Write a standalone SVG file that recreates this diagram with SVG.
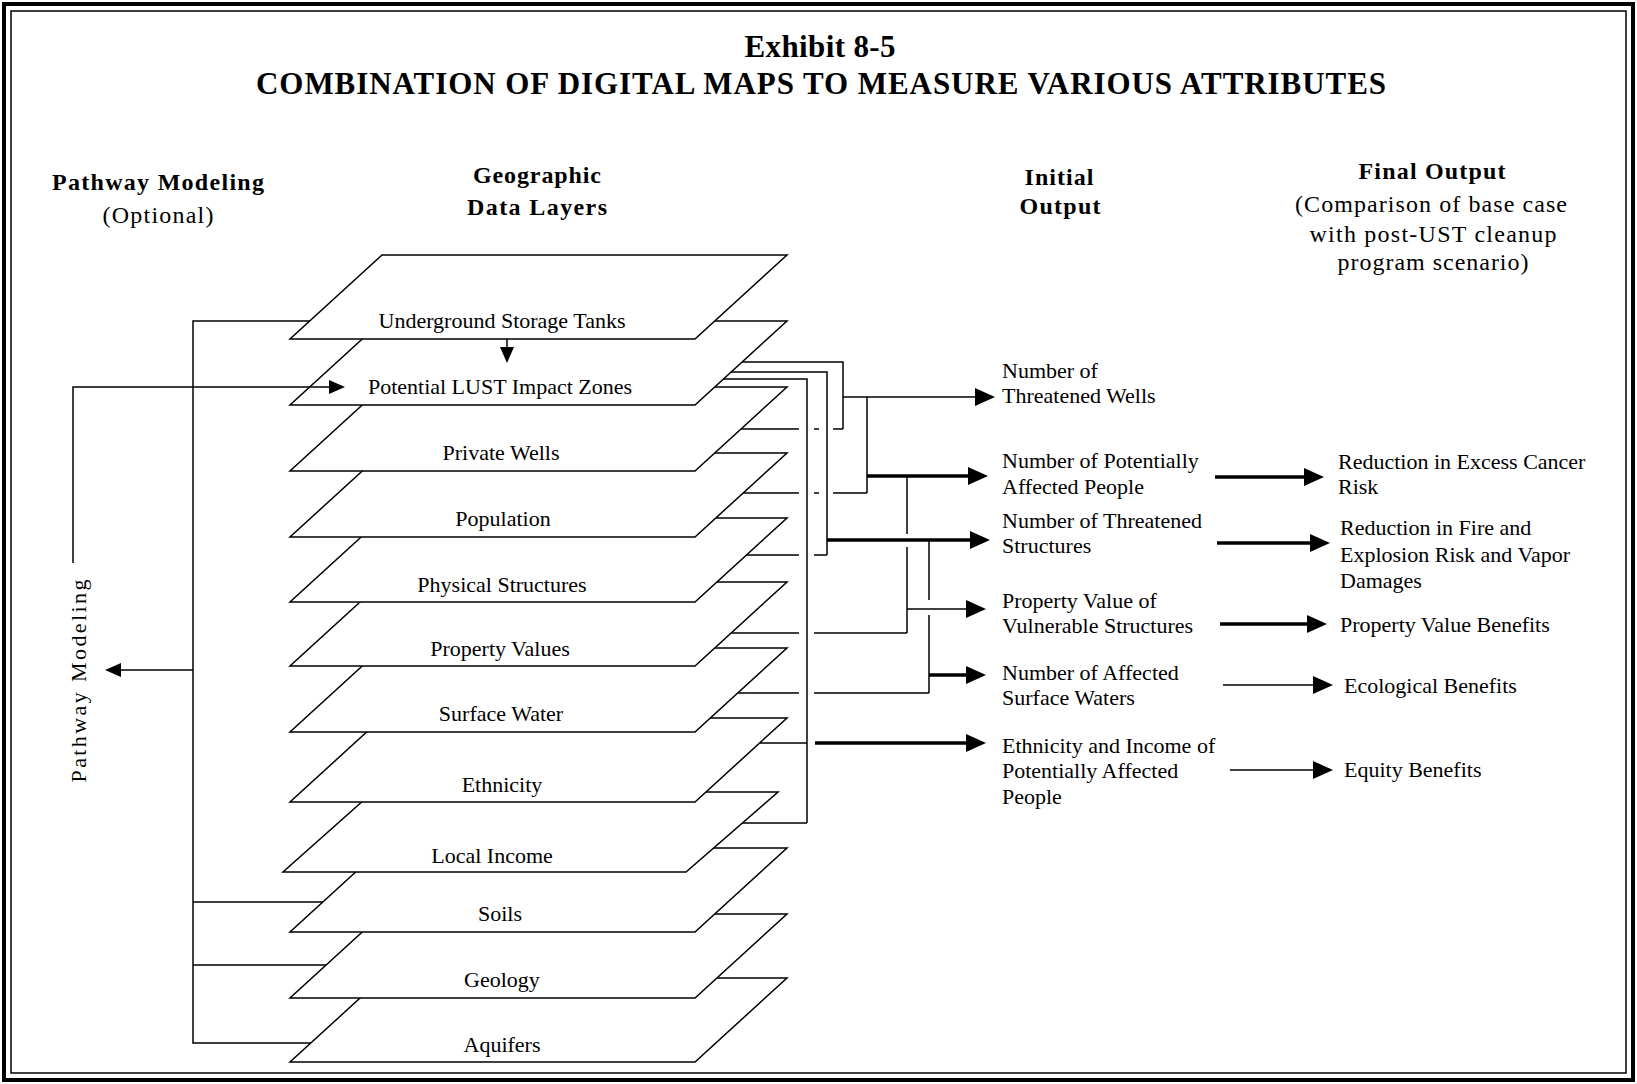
<svg xmlns="http://www.w3.org/2000/svg" width="1637" height="1084" viewBox="0 0 1637 1084">
<style>
.bg{fill:#fff}
.frame{fill:none;stroke:#000}
.layer{fill:#fff;stroke:#000;stroke-width:1.5}
.t{font-family:"Liberation Serif","Times New Roman",serif;font-size:22px;fill:#000}
.c{text-anchor:middle}
.hb{font-family:"Liberation Serif","Times New Roman",serif;font-size:24px;font-weight:bold;text-anchor:middle;fill:#000}
.hr{font-family:"Liberation Serif","Times New Roman",serif;font-size:24px;text-anchor:middle;fill:#000}
.title{font-family:"Liberation Serif","Times New Roman",serif;font-size:31px;font-weight:bold;text-anchor:middle;fill:#000}
.ln{fill:none;stroke:#000;stroke-width:1.5}
.thk{stroke-width:3.5}
</style>
<defs>
<marker id="ah" viewBox="0 0 20 20" refX="0" refY="10" markerWidth="20" markerHeight="20" markerUnits="userSpaceOnUse" orient="auto"><path d="M0,1 L20,10 L0,19 z" fill="#000"/></marker>
<marker id="ahs" viewBox="0 0 16 14" refX="0" refY="7" markerWidth="16" markerHeight="14" markerUnits="userSpaceOnUse" orient="auto"><path d="M0,0 L16,7 L0,14 z" fill="#000"/></marker>
</defs>
<rect class="bg" x="0" y="0" width="1637" height="1084"/>
<g id="frame">
<rect class="frame" x="4" y="4" width="1629" height="1076" stroke-width="4"/>
<rect class="frame" x="11" y="11" width="1615" height="1062" stroke-width="1.5"/>
</g>
<g id="title">
<text class="title" x="820" y="57" textLength="151">Exhibit 8-5</text>
<text class="title" x="821" y="94" textLength="1130">COMBINATION OF DIGITAL MAPS TO MEASURE VARIOUS ATTRIBUTES</text>
</g>
<g id="headers">
<text class="hb" x="158" y="190" textLength="212">Pathway Modeling</text>
<text class="hr" x="158" y="223" textLength="111">(Optional)</text>
<text class="hb" x="537" y="183" textLength="128">Geographic</text>
<text class="hb" x="537" y="215" textLength="140">Data Layers</text>
<text class="hb" x="1059" y="185" textLength="69">Initial</text>
<text class="hb" x="1060" y="214" textLength="81">Output</text>
<text class="hb" x="1432" y="179" textLength="147">Final Output</text>
<text class="hr" x="1431" y="212" textLength="272">(Comparison of base case</text>
<text class="hr" x="1433" y="242" textLength="247">with post-UST cleanup</text>
<text class="hr" x="1433" y="270" textLength="191">program scenario)</text>
</g>
<g id="layers">
<g id="layer-aquifers"><polygon class="layer" points="382,978 787,978 695,1062 290,1062"/><text class="t c" x="502" y="1052">Aquifers</text></g>
<g id="layer-geology"><polygon class="layer" points="382,914 787,914 695,998 290,998"/><text class="t c" x="502" y="987">Geology</text></g>
<g id="layer-soils"><polygon class="layer" points="382,848 787,848 695,932 290,932"/><text class="t c" x="500" y="921">Soils</text></g>
<g id="layer-local-income"><polygon class="layer" points="373,792 778,792 686,872 283,872"/><text class="t c" x="492" y="863">Local Income</text></g>
<g id="layer-ethnicity"><polygon class="layer" points="382,718 787,718 695,802 290,802"/><text class="t c" x="502" y="792">Ethnicity</text></g>
<g id="layer-surface-water"><polygon class="layer" points="382,648 787,648 695,732 290,732"/><text class="t c" x="501" y="721">Surface Water</text></g>
<g id="layer-property-values"><polygon class="layer" points="382,582 787,582 695,666 290,666"/><text class="t c" x="500" y="656">Property Values</text></g>
<g id="layer-physical-structures"><polygon class="layer" points="382,518 787,518 695,602 290,602"/><text class="t c" x="502" y="592">Physical Structures</text></g>
<g id="layer-population"><polygon class="layer" points="382,453 787,453 695,537 290,537"/><text class="t c" x="503" y="526">Population</text></g>
<g id="layer-private-wells"><polygon class="layer" points="382,387 787,387 695,471 290,471"/><text class="t c" x="501" y="460">Private Wells</text></g>
<g id="layer-lust"><polygon class="layer" points="382,321 787,321 695,405 290,405"/><text class="t c" x="500" y="394">Potential LUST Impact Zones</text></g>
<g id="layer-ust"><polygon class="layer" points="382,255 787,255 695,339 290,339"/><text class="t c" x="502" y="328">Underground Storage Tanks</text></g>
</g>
<g id="pathway-label">
<text class="t c" transform="translate(86,681) rotate(-90)" textLength="203">Pathway Modeling</text>
</g>
<g id="initial-outputs">
<g id="out-wells"><text class="t" x="1002" y="378">Number of</text><text class="t" x="1002" y="403">Threatened Wells</text></g>
<g id="out-people"><text class="t" x="1002" y="468">Number of Potentially</text><text class="t" x="1002" y="494">Affected People</text></g>
<g id="out-structures"><text class="t" x="1002" y="528">Number of Threatened</text><text class="t" x="1002" y="553">Structures</text></g>
<g id="out-property"><text class="t" x="1002" y="608">Property Value of</text><text class="t" x="1002" y="633">Vulnerable Structures</text></g>
<g id="out-surface"><text class="t" x="1002" y="680">Number of Affected</text><text class="t" x="1002" y="705">Surface Waters</text></g>
<g id="out-ethnicity"><text class="t" x="1002" y="753">Ethnicity and Income of</text><text class="t" x="1002" y="778">Potentially Affected</text><text class="t" x="1002" y="804">People</text></g>
</g>
<g id="final-outputs">
<g id="fin-cancer"><text class="t" x="1338" y="469">Reduction in Excess Cancer</text><text class="t" x="1338" y="494">Risk</text></g>
<g id="fin-fire"><text class="t" x="1340" y="535">Reduction in Fire and</text><text class="t" x="1340" y="562">Explosion Risk and Vapor</text><text class="t" x="1340" y="588">Damages</text></g>
<g id="fin-property"><text class="t" x="1340" y="632">Property Value Benefits</text></g>
<g id="fin-eco"><text class="t" x="1344" y="693">Ecological Benefits</text></g>
<g id="fin-equity"><text class="t" x="1344" y="777">Equity Benefits</text></g>
</g>
<g id="connectors">
<!-- left bracket -->
<path class="ln" d="M310,321 H193 V1043 H311 M193,902 H323 M193,965 H326"/>
<path class="ln" d="M193,670 H121" marker-end="url(#ahs)"/>
<path class="ln" d="M73,563 V387 H329" marker-end="url(#ahs)"/>
<path class="ln" d="M507,339 V347" marker-end="url(#ahs)"/>
<!-- right side trees -->
<path class="ln" d="M742,362 H843 V429 M741,429 H799 M814,429 H819 M833,429 H843"/>
<path class="ln" d="M843,397 H975" marker-end="url(#ah)"/>
<path class="ln" d="M867,397 V493 M743,493 H799 M814,493 H819 M833,493 H867"/>
<path class="ln thk" d="M867,476 H968" marker-end="url(#ah)"/>
<path class="ln" d="M907,476 V534 M907,547 V633 M731,633 H799 M814,633 H907"/>
<path class="ln" d="M907,609 H966" marker-end="url(#ah)"/>
<path class="ln" d="M731,372 H827 V555 M746,555 H799 M814,555 H827"/>
<path class="ln thk" d="M827,540 H970" marker-end="url(#ah)"/>
<path class="ln" d="M929,540 V600 M929,615 V693 M738,693 H799 M814,693 H929"/>
<path class="ln thk" d="M929,675 H966" marker-end="url(#ah)"/>
<path class="ln" d="M723,379 H807 V823 M760,743 H807 M742,823 H807"/>
<path class="ln thk" d="M815,743 H966" marker-end="url(#ah)"/>
<!-- final arrows -->
<path class="ln thk" d="M1215,477 H1304" marker-end="url(#ah)"/>
<path class="ln thk" d="M1217,543 H1310" marker-end="url(#ah)"/>
<path class="ln thk" d="M1220,624 H1307" marker-end="url(#ah)"/>
<path class="ln" d="M1223,685 H1313" marker-end="url(#ah)"/>
<path class="ln" d="M1230,770 H1313" marker-end="url(#ah)"/>
</g>
</svg>
